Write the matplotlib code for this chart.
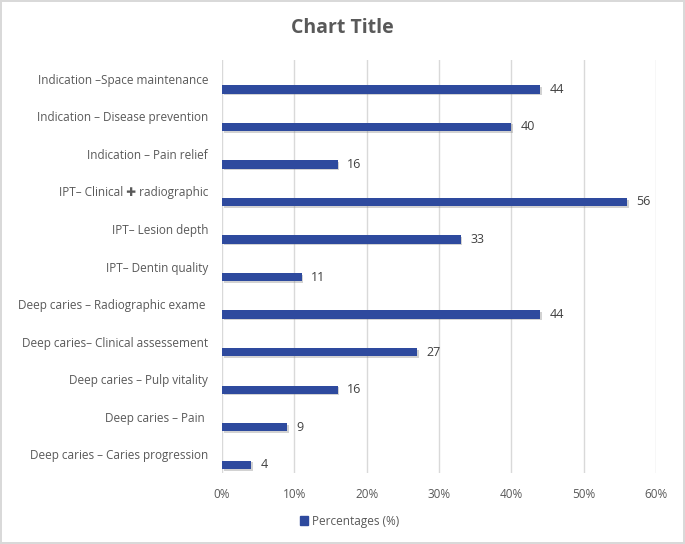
import numpy as np
import matplotlib.pyplot as plt
import matplotlib.patheffects as pe
from matplotlib.patches import Patch
from matplotlib.ticker import PercentFormatter

plt.rcParams['font.family'] = ['Open Sans', 'DejaVu Sans']

# categories listed bottom to top, as drawn
categories = [
    'Deep caries \u2013 Caries progression',
    'Deep caries \u2013 Pain ',
    'Deep caries \u2013 Pulp vitality',
    'Deep caries\u2013 Clinical assessement',
    'Deep caries \u2013 Radiographic exame ',
    'IPT\u2013 Dentin quality',
    'IPT\u2013 Lesion depth',
    'IPT\u2013 Clinical \u271a radiographic',
    'Indication \u2013 Pain relief',
    'Indication \u2013 Disease prevention',
    'Indication \u2013Space maintenance',
]
values = [4, 9, 16, 27, 44, 11, 33, 56, 16, 40, 44]
xticks = [0, 10, 20, 30, 40, 50, 60]

bar_color = '#2E4A9E'
text_color = '#595959'

fig = plt.figure(figsize=(6.85, 5.44), dpi=100)
fig.patch.set_edgecolor('#D9D9D9')
fig.patch.set_linewidth(1.5)
ax = fig.add_axes([0.324, 0.1305, 0.634, 0.759])

pos = np.arange(len(categories))
bars = ax.barh(pos - 0.28, values, height=0.22, color=bar_color, zorder=3)
for b in bars:
    b.set_path_effects([pe.SimplePatchShadow(offset=(1.2, -1.2), shadow_rgbFace='#7F7F7F', alpha=0.35),
                        pe.Normal()])

for p, v in zip(pos, values):
    ax.text(v + 1.3, p - 0.28, str(v), va='center', ha='left', fontsize=9, color='#404040')

ax.set_xlim(0, 60)
ax.set_ylim(-0.5, len(categories) - 0.5)
ax.set_xticks(xticks)
ax.xaxis.set_major_formatter(PercentFormatter(decimals=0))
ax.set_yticks(pos)
ax.set_yticklabels(categories)
ax.tick_params(axis='both', length=0, labelsize=8.5, colors=text_color)
ax.tick_params(axis='y', pad=10)
ax.tick_params(axis='x', pad=11)
ax.grid(axis='x', color='#D9D9D9', linewidth=1, zorder=0)
for s in ax.spines.values():
    s.set_visible(False)

fig.suptitle('Chart Title', x=0.5, y=0.966, fontsize=14, fontweight='bold', color=text_color)

fig.legend(handles=[Patch(color=bar_color)], labels=['Percentages (%)'], loc='center',
           bbox_to_anchor=(0.51, 0.042), frameon=False, fontsize=8.5, labelcolor=text_color,
           handlelength=0.7, handleheight=0.7, handletextpad=0.3)

fig.savefig('out.png', dpi=100)
